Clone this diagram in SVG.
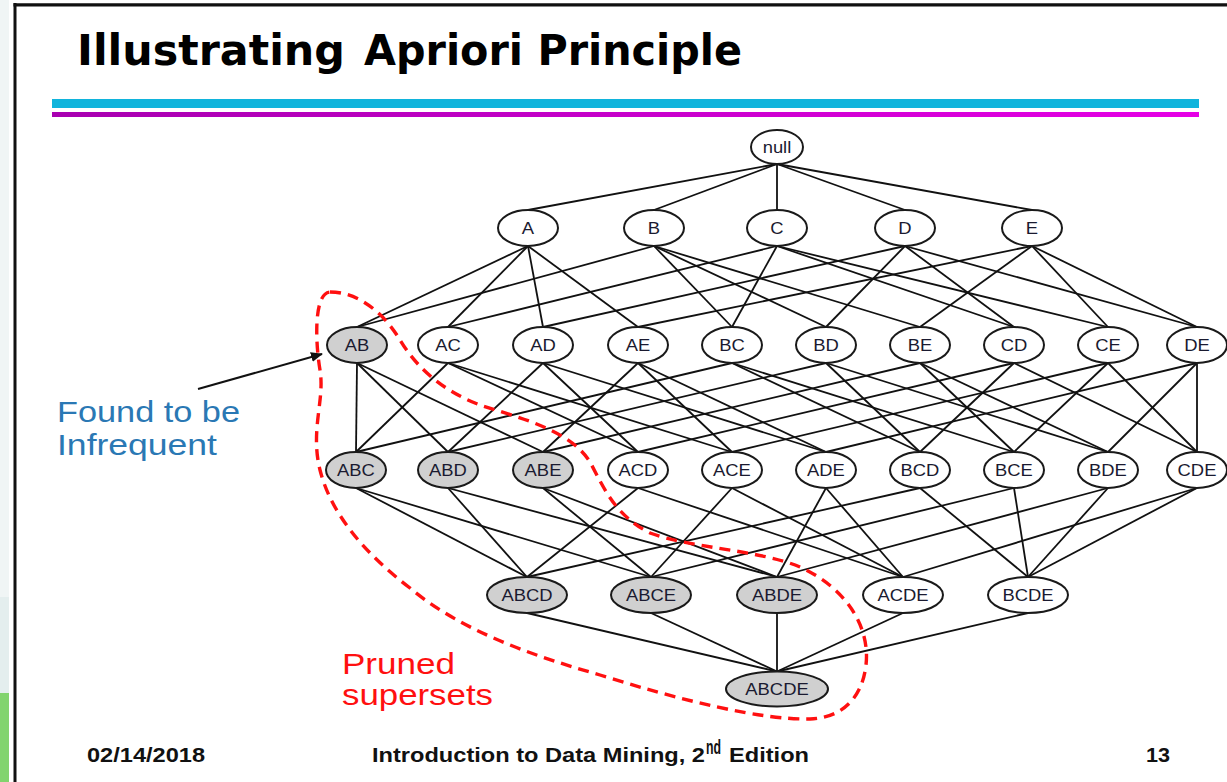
<svg xmlns="http://www.w3.org/2000/svg" width="1227" height="782" viewBox="0 0 1227 782">
<defs>
<linearGradient id="mag" x1="0" y1="0" x2="1" y2="0">
<stop offset="0" stop-color="#a800b0"/>
<stop offset="1" stop-color="#e600e6"/>
</linearGradient>
<marker id="arr" viewBox="0 0 12 10" refX="11" refY="5" markerWidth="12" markerHeight="10" markerUnits="userSpaceOnUse" orient="auto">
<path d="M0,0 L12,5 L0,10 Z" fill="#111"/>
</marker>
<style>
.n ellipse{fill:#fff;stroke:#1a1a1a;stroke-width:2}
.g ellipse{fill:#d0d0d0}
.n text{font-family:"Liberation Sans",Arial,sans-serif;font-size:16px;fill:#1a1a30;text-anchor:middle}
.e line{stroke:#111;stroke-width:1.8}
.ft{font-family:"Liberation Sans",Arial,sans-serif;font-weight:bold;font-size:20px;fill:#111}
.lbl{font-family:"Liberation Sans",Arial,sans-serif;font-size:29px}
</style>
</defs>
<rect x="0" y="0" width="1227" height="782" fill="#fff"/>
<rect x="0" y="0" width="9" height="597" fill="#f0f5f5"/>
<rect x="0" y="597" width="9" height="96" fill="#e4eeee"/>
<rect x="0" y="693" width="9" height="89" fill="#82d46e"/>
<line x1="15" y1="3" x2="15" y2="782" stroke="#111" stroke-width="3"/>
<line x1="13.5" y1="4.8" x2="1227" y2="4.8" stroke="#111" stroke-width="3.2"/>
<text x="77" y="65" font-family="'DejaVu Sans',Verdana,sans-serif" font-weight="bold" font-size="42" fill="#000" textLength="268" lengthAdjust="spacingAndGlyphs">Illustrating</text>
<text x="364" y="65" font-family="'DejaVu Sans',Verdana,sans-serif" font-weight="bold" font-size="42" fill="#000" textLength="378" lengthAdjust="spacingAndGlyphs">Apriori Principle</text>
<rect x="52" y="99" width="1147" height="9" fill="#10b4dc"/>
<rect x="52" y="112" width="1147" height="5" fill="url(#mag)"/>
<g id="connectors" class="e">
<line x1="777" y1="164" x2="528" y2="210"/><line x1="777" y1="164" x2="654" y2="210"/><line x1="777" y1="164" x2="777" y2="210"/><line x1="777" y1="164" x2="905" y2="210"/><line x1="777" y1="164" x2="1032" y2="210"/>
<line x1="528" y1="246" x2="357" y2="327"/><line x1="528" y1="246" x2="448" y2="327"/><line x1="528" y1="246" x2="543" y2="327"/><line x1="528" y1="246" x2="638" y2="327"/>
<line x1="654" y1="246" x2="357" y2="327"/><line x1="654" y1="246" x2="732" y2="327"/><line x1="654" y1="246" x2="826" y2="327"/><line x1="654" y1="246" x2="920" y2="327"/>
<line x1="777" y1="246" x2="448" y2="327"/><line x1="777" y1="246" x2="732" y2="327"/><line x1="777" y1="246" x2="1014" y2="327"/><line x1="777" y1="246" x2="1108" y2="327"/>
<line x1="905" y1="246" x2="543" y2="327"/><line x1="905" y1="246" x2="826" y2="327"/><line x1="905" y1="246" x2="1014" y2="327"/><line x1="905" y1="246" x2="1197" y2="327"/>
<line x1="1032" y1="246" x2="638" y2="327"/><line x1="1032" y1="246" x2="920" y2="327"/><line x1="1032" y1="246" x2="1108" y2="327"/><line x1="1032" y1="246" x2="1197" y2="327"/>
<line x1="357" y1="363" x2="356" y2="452"/><line x1="357" y1="363" x2="448" y2="452"/><line x1="357" y1="363" x2="543" y2="452"/>
<line x1="448" y1="363" x2="356" y2="452"/><line x1="448" y1="363" x2="638" y2="452"/><line x1="448" y1="363" x2="732" y2="452"/>
<line x1="543" y1="363" x2="448" y2="452"/><line x1="543" y1="363" x2="638" y2="452"/><line x1="543" y1="363" x2="826" y2="452"/>
<line x1="638" y1="363" x2="543" y2="452"/><line x1="638" y1="363" x2="732" y2="452"/><line x1="638" y1="363" x2="826" y2="452"/>
<line x1="732" y1="363" x2="356" y2="452"/><line x1="732" y1="363" x2="920" y2="452"/><line x1="732" y1="363" x2="1014" y2="452"/>
<line x1="826" y1="363" x2="448" y2="452"/><line x1="826" y1="363" x2="920" y2="452"/><line x1="826" y1="363" x2="1108" y2="452"/>
<line x1="920" y1="363" x2="543" y2="452"/><line x1="920" y1="363" x2="1014" y2="452"/><line x1="920" y1="363" x2="1108" y2="452"/>
<line x1="1014" y1="363" x2="638" y2="452"/><line x1="1014" y1="363" x2="920" y2="452"/><line x1="1014" y1="363" x2="1197" y2="452"/>
<line x1="1108" y1="363" x2="732" y2="452"/><line x1="1108" y1="363" x2="1014" y2="452"/><line x1="1108" y1="363" x2="1197" y2="452"/>
<line x1="1197" y1="363" x2="826" y2="452"/><line x1="1197" y1="363" x2="1108" y2="452"/><line x1="1197" y1="363" x2="1197" y2="452"/>
<line x1="356" y1="488" x2="527" y2="577"/><line x1="356" y1="488" x2="651" y2="577"/>
<line x1="448" y1="488" x2="527" y2="577"/><line x1="448" y1="488" x2="777" y2="577"/>
<line x1="543" y1="488" x2="651" y2="577"/><line x1="543" y1="488" x2="777" y2="577"/>
<line x1="638" y1="488" x2="527" y2="577"/><line x1="638" y1="488" x2="903" y2="577"/>
<line x1="732" y1="488" x2="651" y2="577"/><line x1="732" y1="488" x2="903" y2="577"/>
<line x1="826" y1="488" x2="777" y2="577"/><line x1="826" y1="488" x2="903" y2="577"/>
<line x1="920" y1="488" x2="527" y2="577"/><line x1="920" y1="488" x2="1028" y2="577"/>
<line x1="1014" y1="488" x2="651" y2="577"/><line x1="1014" y1="488" x2="1028" y2="577"/>
<line x1="1108" y1="488" x2="777" y2="577"/><line x1="1108" y1="488" x2="1028" y2="577"/>
<line x1="1197" y1="488" x2="903" y2="577"/><line x1="1197" y1="488" x2="1028" y2="577"/>
<line x1="527" y1="613" x2="777" y2="671.5"/><line x1="651" y1="613" x2="777" y2="671.5"/><line x1="777" y1="613" x2="777" y2="671.5"/><line x1="903" y1="613" x2="777" y2="671.5"/><line x1="1028" y1="613" x2="777" y2="671.5"/>
</g>
<g id="n-null" class="n"><ellipse cx="777" cy="147" rx="26" ry="17"/><text x="777" y="152.5" textLength="28.6" lengthAdjust="spacingAndGlyphs">null</text></g>
<g id="n-A" class="n"><ellipse cx="528" cy="228" rx="30" ry="18"/><text x="528" y="233.5" textLength="12.3" lengthAdjust="spacingAndGlyphs">A</text></g>
<g id="n-B" class="n"><ellipse cx="654" cy="228" rx="30" ry="18"/><text x="654" y="233.5" textLength="12.3" lengthAdjust="spacingAndGlyphs">B</text></g>
<g id="n-C" class="n"><ellipse cx="777" cy="228" rx="30" ry="18"/><text x="777" y="233.5" textLength="13.3" lengthAdjust="spacingAndGlyphs">C</text></g>
<g id="n-D" class="n"><ellipse cx="905" cy="228" rx="30" ry="18"/><text x="905" y="233.5" textLength="13.3" lengthAdjust="spacingAndGlyphs">D</text></g>
<g id="n-E" class="n"><ellipse cx="1032" cy="228" rx="30" ry="18"/><text x="1032" y="233.5" textLength="12.3" lengthAdjust="spacingAndGlyphs">E</text></g>
<g id="n-AB" class="n g"><ellipse cx="357" cy="345" rx="30" ry="18"/><text x="357" y="350.5" textLength="24.5" lengthAdjust="spacingAndGlyphs">AB</text></g>
<g id="n-AC" class="n"><ellipse cx="448" cy="345" rx="30" ry="18"/><text x="448" y="350.5" textLength="25.6" lengthAdjust="spacingAndGlyphs">AC</text></g>
<g id="n-AD" class="n"><ellipse cx="543" cy="345" rx="30" ry="18"/><text x="543" y="350.5" textLength="25.6" lengthAdjust="spacingAndGlyphs">AD</text></g>
<g id="n-AE" class="n"><ellipse cx="638" cy="345" rx="30" ry="18"/><text x="638" y="350.5" textLength="24.5" lengthAdjust="spacingAndGlyphs">AE</text></g>
<g id="n-BC" class="n"><ellipse cx="732" cy="345" rx="30" ry="18"/><text x="732" y="350.5" textLength="25.6" lengthAdjust="spacingAndGlyphs">BC</text></g>
<g id="n-BD" class="n"><ellipse cx="826" cy="345" rx="30" ry="18"/><text x="826" y="350.5" textLength="25.6" lengthAdjust="spacingAndGlyphs">BD</text></g>
<g id="n-BE" class="n"><ellipse cx="920" cy="345" rx="30" ry="18"/><text x="920" y="350.5" textLength="24.5" lengthAdjust="spacingAndGlyphs">BE</text></g>
<g id="n-CD" class="n"><ellipse cx="1014" cy="345" rx="30" ry="18"/><text x="1014" y="350.5" textLength="26.6" lengthAdjust="spacingAndGlyphs">CD</text></g>
<g id="n-CE" class="n"><ellipse cx="1108" cy="345" rx="30" ry="18"/><text x="1108" y="350.5" textLength="25.6" lengthAdjust="spacingAndGlyphs">CE</text></g>
<g id="n-DE" class="n"><ellipse cx="1197" cy="345" rx="30" ry="18"/><text x="1197" y="350.5" textLength="25.6" lengthAdjust="spacingAndGlyphs">DE</text></g>
<g id="n-ABC" class="n g"><ellipse cx="356" cy="470" rx="30" ry="18"/><text x="356" y="475.5" textLength="37.8" lengthAdjust="spacingAndGlyphs">ABC</text></g>
<g id="n-ABD" class="n g"><ellipse cx="448" cy="470" rx="30" ry="18"/><text x="448" y="475.5" textLength="37.8" lengthAdjust="spacingAndGlyphs">ABD</text></g>
<g id="n-ABE" class="n g"><ellipse cx="543" cy="470" rx="30" ry="18"/><text x="543" y="475.5" textLength="36.8" lengthAdjust="spacingAndGlyphs">ABE</text></g>
<g id="n-ACD" class="n"><ellipse cx="638" cy="470" rx="30" ry="18"/><text x="638" y="475.5" textLength="38.8" lengthAdjust="spacingAndGlyphs">ACD</text></g>
<g id="n-ACE" class="n"><ellipse cx="732" cy="470" rx="30" ry="18"/><text x="732" y="475.5" textLength="37.8" lengthAdjust="spacingAndGlyphs">ACE</text></g>
<g id="n-ADE" class="n"><ellipse cx="826" cy="470" rx="30" ry="18"/><text x="826" y="475.5" textLength="37.8" lengthAdjust="spacingAndGlyphs">ADE</text></g>
<g id="n-BCD" class="n"><ellipse cx="920" cy="470" rx="30" ry="18"/><text x="920" y="475.5" textLength="38.8" lengthAdjust="spacingAndGlyphs">BCD</text></g>
<g id="n-BCE" class="n"><ellipse cx="1014" cy="470" rx="30" ry="18"/><text x="1014" y="475.5" textLength="37.8" lengthAdjust="spacingAndGlyphs">BCE</text></g>
<g id="n-BDE" class="n"><ellipse cx="1108" cy="470" rx="30" ry="18"/><text x="1108" y="475.5" textLength="37.8" lengthAdjust="spacingAndGlyphs">BDE</text></g>
<g id="n-CDE" class="n"><ellipse cx="1197" cy="470" rx="30" ry="18"/><text x="1197" y="475.5" textLength="38.8" lengthAdjust="spacingAndGlyphs">CDE</text></g>
<g id="n-ABCD" class="n g"><ellipse cx="527" cy="595" rx="40" ry="18"/><text x="527" y="600.5" textLength="51.1" lengthAdjust="spacingAndGlyphs">ABCD</text></g>
<g id="n-ABCE" class="n g"><ellipse cx="651" cy="595" rx="40" ry="18"/><text x="651" y="600.5" textLength="50.1" lengthAdjust="spacingAndGlyphs">ABCE</text></g>
<g id="n-ABDE" class="n g"><ellipse cx="777" cy="595" rx="40" ry="18"/><text x="777" y="600.5" textLength="50.1" lengthAdjust="spacingAndGlyphs">ABDE</text></g>
<g id="n-ACDE" class="n"><ellipse cx="903" cy="595" rx="40" ry="18"/><text x="903" y="600.5" textLength="51.1" lengthAdjust="spacingAndGlyphs">ACDE</text></g>
<g id="n-BCDE" class="n"><ellipse cx="1028" cy="595" rx="40" ry="18"/><text x="1028" y="600.5" textLength="51.1" lengthAdjust="spacingAndGlyphs">BCDE</text></g>
<g id="n-ABCDE" class="n g"><ellipse cx="777" cy="689" rx="51" ry="17.5"/><text x="777" y="694.5" textLength="63.4" lengthAdjust="spacingAndGlyphs">ABCDE</text></g>
<path id="pruned-outline" d="M330,292 C360,292 385,315 400,340 C415,365 440,390 480,405 C520,418 570,430 590,462 C605,490 615,515 650,533 C690,548 760,550 800,567 C850,590 870,630 866,665 C862,700 840,718 810,719 C760,720 680,700 600,675 C530,655 460,630 410,588 C360,550 330,510 320,470 C310,430 325,400 320,370 C315,340 314,293 330,292 Z" fill="none" stroke="#ff1010" stroke-width="3.4" stroke-dasharray="11,7"/>
<g id="annotation-infrequent">
<line x1="198" y1="389" x2="322" y2="354" stroke="#111" stroke-width="2" marker-end="url(#arr)"/>
<text class="lbl" x="57" y="422" fill="#2a78b4" textLength="183" lengthAdjust="spacingAndGlyphs">Found to be</text>
<text class="lbl" x="57" y="455" fill="#2a78b4" textLength="160" lengthAdjust="spacingAndGlyphs">Infrequent</text>
</g>
<g id="annotation-pruned">
<text class="lbl" x="342" y="674" fill="#ff1010" textLength="113" lengthAdjust="spacingAndGlyphs">Pruned</text>
<text class="lbl" x="342" y="705" fill="#ff1010" textLength="151" lengthAdjust="spacingAndGlyphs">supersets</text>
</g>
<g id="footer">
<text class="ft" x="87" y="762" textLength="118" lengthAdjust="spacingAndGlyphs">02/14/2018</text>
<text class="ft" x="372" y="762" textLength="333" lengthAdjust="spacingAndGlyphs">Introduction to Data Mining, 2</text>
<text class="ft" x="706" y="754" font-size="11" textLength="15" lengthAdjust="spacingAndGlyphs">nd</text>
<text class="ft" x="729" y="762" textLength="80" lengthAdjust="spacingAndGlyphs">Edition</text>
<text class="ft" x="1146" y="762" textLength="24" lengthAdjust="spacingAndGlyphs">13</text>
</g>
</svg>
